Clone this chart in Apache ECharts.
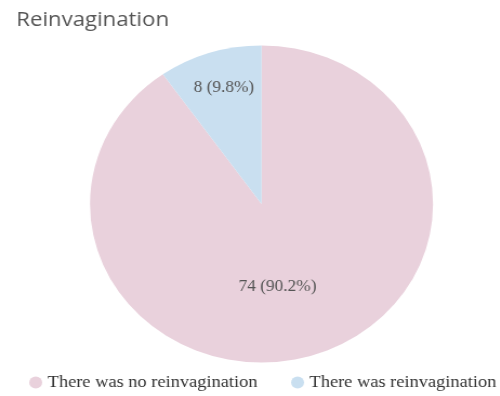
<!DOCTYPE html>
<html><head><meta charset="utf-8">
<script src="https://cdn.jsdelivr.net/npm/echarts@6/dist/echarts.min.js"></script>
<style>
html,body{margin:0;padding:0;background:#fff;overflow:hidden;}
#wrap{width:500px;height:396px;overflow:hidden;}
#c{width:462px;height:396px;transform:scaleX(1.082);transform-origin:0 0;}
</style></head>
<body><div id="wrap"><div id="c"></div></div>
<script>
const title = 'Reinvagination';
const categories = ['There was no reinvagination', 'There was reinvagination'];
const values = [74, 8];
const percents = ['90.2%', '9.8%'];
const colors = ['#E9D1DC', '#C9DFF0'];
const labelOffsets = [[-10, 4], [-10, -38]];

const chart = echarts.init(document.getElementById('c'));
chart.setOption({
  animation: false,
  title: {text: title, left: 10, top: 5, textStyle: {fontFamily: 'Open Sans', fontSize: 20.5, fontWeight: 'normal', color: '#555'}},
  legend: {
    bottom: 5, left: 27, width: 435, padding: 0, icon: 'circle', itemWidth: 12, itemHeight: 12, itemGap: 31,
    textStyle: {fontFamily: 'Liberation Serif', fontSize: 17, color: '#333'},
    data: categories
  },
  series: [{
    type: 'pie', center: [241.7, 204], radius: 158.5, startAngle: 90, clockwise: true,
    label: {position: 'inside', fontFamily: 'Liberation Serif', fontSize: 16, color: '#555',
      formatter: p => p.value + ' (' + percents[p.dataIndex] + ')'},
    labelLine: {show: false},
    data: categories.map((n, i) => ({name: n, value: values[i], itemStyle: {color: colors[i]}, label: {offset: labelOffsets[i]}}))
  }]
});
</script></body></html>
